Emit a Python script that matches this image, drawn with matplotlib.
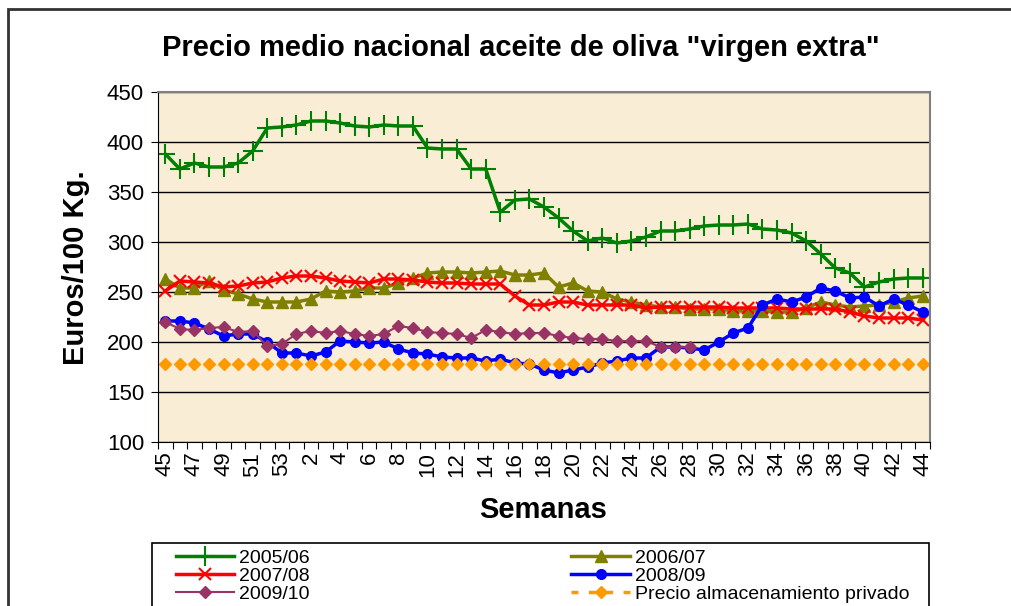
import numpy as np
import matplotlib
matplotlib.use('Agg')
from matplotlib import pyplot as plt
from matplotlib.lines import Line2D
from matplotlib.patches import Rectangle

plt.rcParams['font.family'] = ['Liberation Sans', 'DejaVu Sans']

# weeks 45..53 of the first year, then 1..44
weeks = list(range(45, 54)) + list(range(1, 45))

s0506 = [388, 373, 379, 375, 375, 379, 391, 414, 415, 417, 421, 421, 419, 416, 415, 417, 416, 416,
         394, 393, 393, 373, 373, 330, 342, 343, 335, 324, 311, 301, 304, 299, 301, 305, 311, 311,
         313, 316, 317, 317, 318, 313, 312, 309, 301, 288, 274, 269, 255, 260, 263, 264, 264]
s0607 = [263, 254, 254, 261, 252, 248, 243, 240, 240, 240, 243, 251, 250, 251, 254, 254, 259, 264,
         269, 270, 270, 269, 270, 271, 267, 267, 269, 255, 259, 251, 250, 243, 240, 237, 235, 235,
         233, 233, 233, 231, 231, 231, 230, 230, 234, 240, 237, 235, 236, 237, 240, 244, 246]
s0708 = [251, 261, 260, 259, 255, 256, 259, 260, 264, 266, 266, 264, 261, 260, 259, 263, 263, 262,
         260, 259, 259, 258, 258, 258, 246, 237, 237, 240, 240, 237, 237, 237, 237, 234, 235, 235,
         235, 235, 235, 234, 234, 234, 234, 233, 233, 233, 233, 230, 226, 224, 224, 224, 222]
s0809 = [221, 221, 219, 213, 206, 208, 208, 200, 189, 189, 186, 190, 201, 200, 199, 200, 193, 189,
         188, 185, 184, 184, 181, 183, 179, 178, 172, 169, 172, 175, 179, 181, 184, 184, 195, 195,
         194, 192, 200, 209, 214, 237, 243, 240, 245, 254, 251, 244, 245, 236, 243, 237, 230]
s0910 = [220, 213, 212, 214, 215, 210, 211, 196, 198, 208, 211, 209, 211, 208, 206, 208, 216, 214,
         210, 209, 208, 204, 212, 210, 208, 209, 209, 206, 204, 203, 203, 201, 201, 201, 195, 195, 195]
almacen = [178] * len(weeks)

W, H = 1011, 606
fig = plt.figure(figsize=(W / 100, H / 100), dpi=100, facecolor='w')
ax = fig.add_axes([158 / W, 1 - 442 / H, (930 - 158) / W, (442 - 92) / H])
ax.set_facecolor('#F9EDD6')

x = np.arange(len(weeks))
l1, = ax.plot(x, s0506, color='#008000', lw=2.5, marker='+', ms=14, mew=1.5, label='2005/06')
l2, = ax.plot(x, s0607, color='#808000', lw=2.5, marker='^', ms=8, label='2006/07')
l3, = ax.plot(x, s0708, color='#FF0000', lw=2.5, marker='x', ms=8, mew=1.5, label='2007/08')
l4, = ax.plot(x, s0809, color='#0000FF', lw=2.5, marker='o', ms=7, label='2008/09')
l5, = ax.plot(x[:len(s0910)], s0910, color='#993366', lw=1.5, marker='D', ms=6, label='2009/10')
ax.plot(x, almacen, color='#FF9900', ls='None', marker='D', ms=6.5)
l6 = Line2D([], [], color='#FF9900', lw=2.5, ls=(0, (2, 3)), marker='D', ms=6.5,
            label='Precio almacenamiento privado')

ax.set_ylim(100, 450)
ax.set_yticks(np.arange(100, 451, 50))
ax.set_xlim(-0.5, len(weeks) - 0.5)
ax.grid(axis='y', color='black', lw=1)
ax.set_axisbelow(True)

# ticks between categories, labels on every other category
ax.set_xticks(np.arange(-0.5, len(weeks), 1))
ax.set_xticklabels([])
ax.set_xticks(x[::2], minor=True)
ax.set_xticklabels([str(w) for w in weeks[::2]], minor=True, rotation=90)
ax.tick_params(axis='x', which='major', direction='out', length=5, color='black')
ax.tick_params(axis='x', which='minor', length=0, labelsize=16, pad=7)
ax.tick_params(axis='y', direction='out', length=5, labelsize=16, pad=5)

for s in ['left', 'bottom']:
    ax.spines[s].set_color('black')
for s in ['top', 'right']:
    ax.spines[s].set_color('#808080')
    ax.spines[s].set_linewidth(1.5)

fig.text(521 / W, 1 - 48 / H, 'Precio medio nacional aceite de oliva "virgen extra"',
         ha='center', va='center', fontsize=21, fontweight='bold')
fig.text(76 / W, 1 - 268 / H, 'Euros/100 Kg.', rotation=90, ha='center', va='center',
         fontsize=21, fontweight='bold')
fig.text(543 / W, 1 - 510 / H, 'Semanas', ha='center', va='center',
         fontsize=21, fontweight='bold')

# chart area frame
fig.patches.append(Rectangle((8 / W, -0.1), 1.2, 1.1 - 9 / H, transform=fig.transFigure,
                             fill=False, edgecolor='#333333', lw=2, clip_on=False))
# legend frame
fig.patches.append(Rectangle((152 / W, -0.05), (929 - 152) / W, 0.05 + 1 - 543 / H,
                             transform=fig.transFigure, fill=False, edgecolor='black',
                             lw=1.2, clip_on=False))

fig.legend(handles=[l1, l3, l5, l2, l4, l6], ncol=2, loc='upper left',
           bbox_to_anchor=(176 / W, 1 - 549 / H), fontsize=14, frameon=False,
           handlelength=3.0, handletextpad=0.25, labelspacing=0.02, borderaxespad=0,
           borderpad=0, columnspacing=13.45)

fig.savefig('out.png', dpi=100)
